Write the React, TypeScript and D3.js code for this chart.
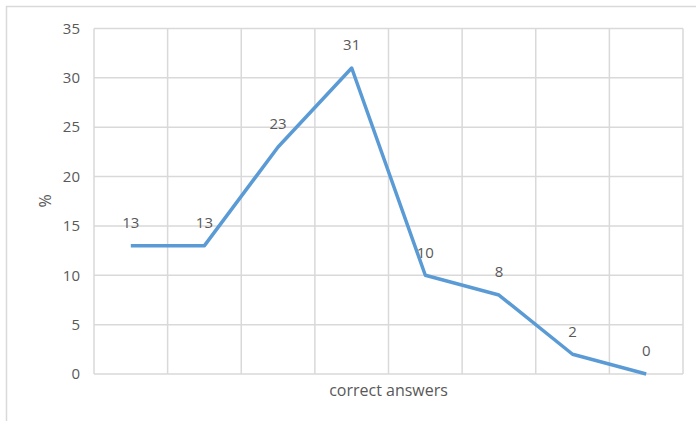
import React, { useEffect, useRef } from 'react';
import * as d3 from 'd3';

const categories = ['1', '2', '3', '4', '5', '6', '7', '8'];
const percents = [13, 13, 23, 31, 10, 8, 2, 0];
const yTicks = [0, 5, 10, 15, 20, 25, 30, 35];

const width = 696;
const height = 421;
const margin = { top: 28.5, right: 13, bottom: 47, left: 94 };
const font = "'Open Sans', 'Liberation Sans', sans-serif";
const textColor = '#595959';
const gridColor = '#d9d9d9';

export default function App() {
  const svgRef = useRef<SVGSVGElement>(null);

  useEffect(() => {
    if (!svgRef.current) return;
    const svg = d3.select(svgRef.current);
    svg.selectAll('*').remove();

    const innerWidth = width - margin.left - margin.right;
    const innerHeight = height - margin.top - margin.bottom;

    // chart area border (only top and left visible)
    svg.append('rect')
      .attr('x', 6.5)
      .attr('y', 6.5)
      .attr('width', width + 20)
      .attr('height', height + 20)
      .attr('fill', 'white')
      .attr('stroke', gridColor)
      .attr('stroke-width', 1.5);

    const x = d3.scaleBand<string>().domain(categories).range([0, innerWidth]);
    const y = d3.scaleLinear().domain([0, 35]).range([innerHeight, 0]);

    const g = svg.append('g')
      .attr('transform', `translate(${margin.left},${margin.top})`);

    // horizontal gridlines
    g.selectAll('line.hgrid')
      .data(yTicks)
      .enter()
      .append('line')
      .attr('class', 'hgrid')
      .attr('x1', 0)
      .attr('x2', innerWidth)
      .attr('y1', d => y(d))
      .attr('y2', d => y(d))
      .attr('stroke', gridColor)
      .attr('stroke-width', 1.5);

    // vertical gridlines at band boundaries
    const bounds = categories.map(c => x(c) as number).concat([innerWidth]);
    g.selectAll('line.vgrid')
      .data(bounds)
      .enter()
      .append('line')
      .attr('class', 'vgrid')
      .attr('x1', d => d)
      .attr('x2', d => d)
      .attr('y1', 0)
      .attr('y2', innerHeight)
      .attr('stroke', gridColor)
      .attr('stroke-width', 1.5);

    // y tick labels
    g.selectAll('text.ytick')
      .data(yTicks)
      .enter()
      .append('text')
      .attr('class', 'ytick')
      .attr('x', -14)
      .attr('y', d => y(d))
      .attr('dy', '0.35em')
      .attr('text-anchor', 'end')
      .attr('font-family', font)
      .attr('font-size', 15)
      .attr('fill', textColor)
      .text(d => d);

    // line
    const line = d3.line<number>()
      .x((d, i) => (x(categories[i]) as number) + x.bandwidth() / 2)
      .y(d => y(d));

    g.append('path')
      .datum(percents)
      .attr('d', line)
      .attr('fill', 'none')
      .attr('stroke', '#5b9bd5')
      .attr('stroke-width', 3.5)
      .attr('stroke-linejoin', 'round');

    // data labels
    g.selectAll('text.label')
      .data(percents)
      .enter()
      .append('text')
      .attr('class', 'label')
      .attr('x', (d, i) => (x(categories[i]) as number) + x.bandwidth() / 2)
      .attr('y', d => y(d) - 23)
      .attr('dy', '0.35em')
      .attr('text-anchor', 'middle')
      .attr('font-family', font)
      .attr('font-size', 15)
      .attr('fill', textColor)
      .text(d => d);

    // axis titles
    g.append('text')
      .attr('x', innerWidth / 2)
      .attr('y', innerHeight + 16)
      .attr('dy', '0.35em')
      .attr('text-anchor', 'middle')
      .attr('font-family', font)
      .attr('font-size', 16)
      .attr('fill', textColor)
      .text('correct answers');

    g.append('text')
      .attr('transform', `translate(${45 - margin.left},${201 - margin.top}) rotate(-90)`)
      .attr('dy', '0.35em')
      .attr('text-anchor', 'middle')
      .attr('font-family', font)
      .attr('font-size', 16)
      .attr('fill', textColor)
      .text('%');
  }, []);

  return (
    <svg
      ref={svgRef}
      width={width}
      height={height}
      style={{ position: 'absolute', left: 0, top: 0, display: 'block', background: 'white' }}
    />
  );
}
